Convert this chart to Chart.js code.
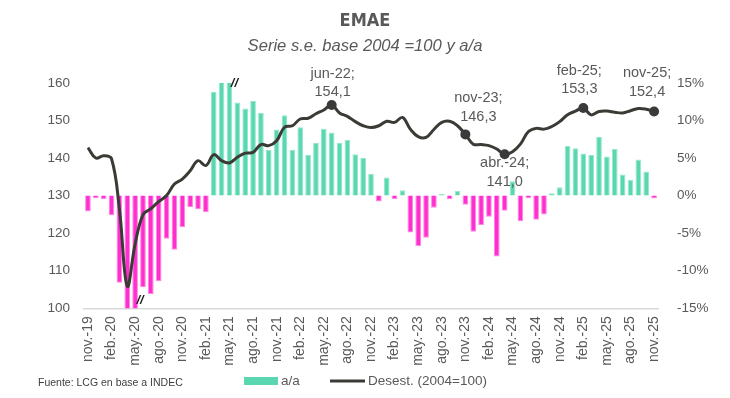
<!DOCTYPE html>
<html>
<head>
<meta charset="utf-8">
<script src="https://cdn.jsdelivr.net/npm/chart.js@4"></script>
<style>
  html, body { margin: 0; padding: 0; background: #ffffff; }
  #wrap { width: 730px; height: 398px; position: relative; }
</style>
</head>
<body>
<div id="wrap"><canvas id="c" width="730" height="398"></canvas></div>
<script>
// ---------- DATA ----------
const months = [
  'nov.-19','dic.-19',
  'ene.-20','feb.-20','mar.-20','abr.-20','may.-20','jun.-20','jul.-20','ago.-20','sep.-20','oct.-20','nov.-20','dic.-20',
  'ene.-21','feb.-21','mar.-21','abr.-21','may.-21','jun.-21','jul.-21','ago.-21','sep.-21','oct.-21','nov.-21','dic.-21',
  'ene.-22','feb.-22','mar.-22','abr.-22','may.-22','jun.-22','jul.-22','ago.-22','sep.-22','oct.-22','nov.-22','dic.-22',
  'ene.-23','feb.-23','mar.-23','abr.-23','may.-23','jun.-23','jul.-23','ago.-23','sep.-23','oct.-23','nov.-23','dic.-23',
  'ene.-24','feb.-24','mar.-24','abr.-24','may.-24','jun.-24','jul.-24','ago.-24','sep.-24','oct.-24','nov.-24','dic.-24',
  'ene.-25','feb.-25','mar.-25','abr.-25','may.-25','jun.-25','jul.-25','ago.-25','sep.-25','oct.-25','nov.-25'
];
// year-on-year change, % (right axis)
const yoy = [
  -2.1, -0.35,
  -0.5, -2.6, -11.6, -25.4, -20.0, -12.2, -13.1, -11.4, -5.75, -7.2, -4.2, -1.5,
  -1.8, -2.2, 13.8, 29.0, 16.0, 12.4, 11.6, 12.6, 11.0, 6.1, 8.8, 10.7,
  6.1, 9.1, 5.4, 7.0, 8.9, 8.4, 7.0, 7.4, 5.5, 5.0, 2.9, -0.8,
  2.4, -0.5, 0.7, -4.9, -6.7, -5.6, -1.6, 0.2, -0.5, 0.6, -1.2, -4.8,
  -3.9, -2.8, -8.1, -2.0, 1.9, -3.4, -0.35, -3.2, -2.5, 0.3, 1.1, 6.6,
  6.3, 5.6, 5.4, 7.8, 5.2, 6.2, 2.8, 2.1, 4.8, 3.2, -0.4
];
// seasonally adjusted index, 2004=100 (left axis)
const desest = [
  142.8, 140.0,
  140.6, 139.8, 126.5, 105.9, 117.1, 124.9, 126.5, 128.4, 130.0, 133.1, 134.4, 136.6,
  139.3, 138.0, 140.9, 139.3, 138.7, 140.2, 141.3, 141.5, 143.6, 143.3, 144.6, 148.2,
  148.6, 150.4, 150.6, 151.8, 152.8, 154.1, 152.0, 151.1, 149.7, 148.6, 148.1, 148.6,
  149.8, 149.5, 150.8, 147.7, 145.7, 145.5, 147.6, 149.5, 149.8, 148.6, 146.3, 143.7,
  143.6, 143.3, 142.4, 141.0, 141.7, 143.7, 147.0, 147.9, 147.7, 148.4, 149.7, 151.5,
  152.5, 153.3, 151.5, 152.4, 152.5, 152.2, 152.0, 152.6, 153.2, 153.0, 152.4
];
const leftTicks = [100, 110, 120, 130, 140, 150, 160];
const rightTicks = [-15, -10, -5, 0, 5, 10, 15];
// annotated points of the index series
const annotIdx = [31, 48, 53, 63, 72];
const annotText = ['jun-22;', 'nov-23;', 'abr.-24;', 'feb-25;', 'nov-25;'];
// categories whose bars are cut by the axis (drawn with "//")
const brokenIdx = [6, 18];
const sourceText = 'Fuente: LCG en base a INDEC';

// ---------- STYLE ----------
const GREEN = '#5ad7b0', GREEN_EDGE = '#93e8cc';
const PINK = '#ff2ecf', PINK_EDGE = '#ff86e2';
const LINE = '#3b3b35';
const TXT = '#595959';
const FONT = "'Liberation Sans', Arial, sans-serif";
// label offsets relative to the marked point: [dx, dy line1, dy line2]
const annotOffsets = [[1, -31.5, -13.5], [13, -36.5, -17], [0, 9, 28], [-4, -37, -19], [-7, -38, -19]];

const annotPlugin = {
  id: 'annot',
  afterDraw(chart) {
    const ctx = chart.ctx;
    const meta = chart.getDatasetMeta(0);
    ctx.save();
    ctx.font = "14.5px " + FONT;
    ctx.fillStyle = TXT;
    ctx.textAlign = 'center';
    ctx.textBaseline = 'middle';
    annotIdx.forEach((i, k) => {
      const p = meta.data[i];
      const o = annotOffsets[k];
      ctx.fillText(annotText[k], p.x + o[0], p.y + o[1]);
      ctx.fillText(desest[i].toFixed(1).replace('.', ','), p.x + o[0], p.y + o[2]);
    });
    // broken-bar marks
    const xs = chart.scales.x, ca = chart.chartArea;
    ctx.font = "italic bold 13px " + FONT;
    ctx.fillStyle = '#1e1e1e';
    brokenIdx.forEach(i => {
      const x = xs.getPixelForValue(i) + 5;
      const y = yoy[i] < 0 ? ca.bottom - 8 : ca.top + 1;
      ctx.fillText('//', x, y);
    });
    // legend
    const ly = 381;
    const ds = chart.data.datasets;
    ctx.font = "13.5px " + FONT;
    ctx.textAlign = 'left';
    ctx.fillStyle = GREEN;
    ctx.fillRect(244, ly - 4, 34, 8);
    ctx.fillStyle = TXT;
    ctx.fillText(ds[1].label, 281, ly);
    ctx.strokeStyle = LINE;
    ctx.lineWidth = 3;
    ctx.beginPath();
    ctx.moveTo(330, ly);
    ctx.lineTo(365, ly);
    ctx.stroke();
    ctx.fillText(ds[0].label, 368, ly);
    // source note
    ctx.font = "10.5px " + FONT;
    ctx.fillStyle = '#404040';
    ctx.fillText(sourceText, 38, 383);
    ctx.restore();
  }
};

new Chart(document.getElementById('c'), {
  type: 'bar',
  data: {
    labels: months,
    datasets: [
      {
        type: 'line',
        label: 'Desest. (2004=100)',
        data: desest,
        yAxisID: 'y',
        borderColor: LINE,
        backgroundColor: LINE,
        borderWidth: 3,
        tension: 0.4,
        pointRadius: desest.map((v, i) => annotIdx.includes(i) ? 5 : 0),
        pointBackgroundColor: '#3a3a3a',
        pointBorderColor: '#3a3a3a',
        pointBorderWidth: 0
      },
      {
        type: 'bar',
        label: 'a/a',
        data: yoy,
        yAxisID: 'y1',
        backgroundColor: yoy.map(v => v >= 0 ? GREEN : PINK),
        borderColor: yoy.map(v => v >= 0 ? GREEN_EDGE : PINK_EDGE),
        borderWidth: 1,
        barPercentage: 0.72,
        categoryPercentage: 1.0
      }
    ]
  },
  options: {
    responsive: false,
    animation: false,
    devicePixelRatio: 1,
    layout: { padding: { left: 0, right: 0, top: 0, bottom: 31.7 } },
    plugins: {
      tooltip: { enabled: false },
      legend: { display: false },
      title: {
        display: true,
        text: 'EMAE',
        color: TXT,
        font: { family: "'DejaVu Sans Condensed', " + FONT, size: 18, weight: 'bold' },
        padding: { top: 11, bottom: 3.4 }
      },
      subtitle: {
        display: true,
        text: 'Serie s.e. base 2004 =100 y a/a',
        color: TXT,
        font: { family: FONT, size: 16.6, style: 'italic' },
        padding: { top: 0, bottom: 27 }
      }
    },
    scales: {
      x: {
        offset: true,
        grid: { display: false, drawTicks: false },
        border: { display: true, color: '#d9d9d9', width: 1.5 },
        ticks: {
          autoSkip: false,
          maxRotation: 90,
          minRotation: 90,
          padding: 8,
          color: TXT,
          font: { family: FONT, size: 14 },
          callback: (v, i) => (i % 3 === 0 ? months[i] : '')
        },
        afterFit: s => { s.height = 58; }
      },
      y: {
        position: 'left',
        min: 100,
        max: 160,
        grid: { display: false, drawTicks: false },
        border: { display: false },
        afterBuildTicks: s => { s.ticks = leftTicks.map(v => ({ value: v })); },
        ticks: {
          padding: 14,
          color: TXT,
          font: { family: FONT, size: 13.5 }
        },
        afterFit: s => { s.width = 84; }
      },
      y1: {
        position: 'right',
        min: -15,
        max: 15,
        grid: { display: false, drawTicks: false },
        border: { display: false },
        afterBuildTicks: s => { s.ticks = rightTicks.map(v => ({ value: v })); },
        ticks: {
          padding: 19,
          color: TXT,
          font: { family: FONT, size: 13.5 },
          callback: v => v + '%'
        },
        afterFit: s => { s.width = 72; }
      }
    }
  },
  plugins: [annotPlugin]
});
</script>
</body>
</html>
